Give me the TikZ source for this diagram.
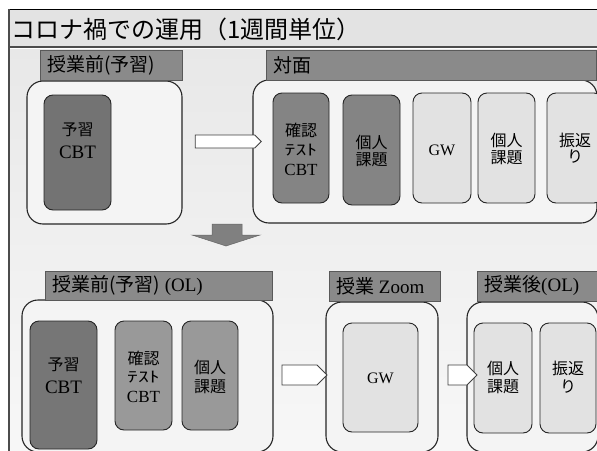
\documentclass[tikz,border=0pt]{standalone}
\usepackage{fontspec}
\setmainfont{Liberation Serif}
\newfontfamily\jp{Noto Sans CJK JP}
\newfontfamily\jpwide{Noto Sans CJK JP}[FakeStretch=1.45]
\usetikzlibrary{shapes.symbols}
\definecolor{hdrgray}{HTML}{8A8A8A}
\definecolor{darkA}{HTML}{737373}
\definecolor{darkB}{HTML}{848484}
\definecolor{darkC}{HTML}{767676}
\definecolor{midC}{HTML}{999999}
\definecolor{lightg}{HTML}{E2E2E2}
\definecolor{contfill}{HTML}{F4F4F4}
\begin{document}
\begin{tikzpicture}[x=1pt,y=-1pt,
  container/.style={draw=black!85,line width=1.1pt,rounded corners=16pt,fill=contfill,minimum width=#1,inner sep=0pt},
  hdr/.style={draw=black!65,line width=0.8pt,fill=hdrgray,inner sep=0pt,minimum height=30pt,minimum width=#1},
  ibox/.style={draw=black!85,line width=0.9pt,rounded corners=9pt,inner sep=0pt,minimum width=#1},
  blockarrow/.style={signal,signal to=east,draw=black!75,line width=0.8pt,fill=white,inner sep=0pt,minimum width=#1},
  jt/.style={font=\jp\fontsize{16}{18}\selectfont,inner sep=0pt},
  lt/.style={font=\fontsize{19}{21}\selectfont,inner sep=0pt},
  st/.style={font=\jpwide\fontsize{15}{17}\selectfont,inner sep=0pt},
  ht/.style={font=\fontsize{19}{22}\selectfont,inner sep=0pt,anchor=west}]
\useasboundingbox (0,0) rectangle (597,450);
\clip (0,0) rectangle (597,450);
% frame
\shade[top color=black!9,bottom color=black!3] (9,47) rectangle (600,452);
\fill[black!11] (9,9) rectangle (600,47);
\draw[black!70,line width=1.2pt] (9,47) -- (600,47);
\draw[white,line width=0.8pt] (9,48.6) -- (600,48.6);
\draw[black,line width=0.8pt] (9,9) -- (600,9);
\draw[black!70,line width=1.6pt] (9,9) -- (9,452);
\node[anchor=west,inner sep=0pt,font=\jp\fontsize{24}{26}\selectfont] (title) at (11,29) {コロナ禍での運用（1週間単位）};

% upper left
\node[container=155pt,minimum height=143pt] (cA) at (104.5,152.5) {};
\node[hdr=142pt] (hA) at (111,65) {};
\node[ht] (hAt) at (47,65) {\jp 授業前(予習)};
\node[ibox=67pt,minimum height=115pt,fill=darkA] (pA) at (77.5,152.5) {};
\node[jt] (pA1) at (77.5,130) {予習};
\node[lt] (pA2) at (77.5,152) {CBT};

% upper right
\node[container=344pt,minimum height=143pt] (cB) at (425,151.5) {};
\node[hdr=330pt] (hB) at (431,65) {};
\node[ht] (hBt) at (273,65) {\jp 対面};
\node[ibox=56pt,minimum height=110pt,fill=darkB] (b1) at (301,148) {};
\node[jt] (b1a) at (301,130) {確認};
\node[st] (b1b) at (301,150) {ﾃｽﾄ};
\node[lt,font=\fontsize{17}{19}\selectfont] (b1c) at (301,170) {CBT};
\node[ibox=57pt,minimum height=110pt,fill=darkB] (b2) at (371.5,150) {};
\node[jt] (b2a) at (371.5,142) {個人};
\node[jt] (b2b) at (371.5,160) {課題};
\node[ibox=58pt,minimum height=110pt,fill=lightg] (b3) at (442,148) {};
\node[lt,font=\fontsize{16}{18}\selectfont] (b3a) at (442,150) {GW};
\node[ibox=57pt,minimum height=110pt,fill=lightg] (b4) at (506.5,148) {};
\node[jt] (b4a) at (506.5,140) {個人};
\node[jt] (b4b) at (506.5,158) {課題};
\node[ibox=56pt,minimum height=110pt,fill=lightg] (b5) at (575,148) {};
\node[jt] (b5a) at (575,140) {振返};
\node[jt] (b5b) at (575,157) {り};

% down arrow
\fill[draw=black!60,fill=black!50,line width=0.5pt] (212,224) -- (242,224) -- (242,235) -- (260,235) -- (226,246) -- (192,235) -- (212,235) -- cycle;

% lower left
\node[container=251pt,minimum height=152pt] (cC) at (147.5,376) {};
\node[hdr=227pt,minimum height=29pt] (hC) at (158.5,285.5) {};
\node[ht] (hCt) at (52,285.5) {{\jp 授業前(予習)} (OL)};
\node[ibox=67pt,minimum height=128pt,fill=darkC] (pC) at (63.5,385) {};
\node[jt] (pC1) at (63.5,365) {予習};
\node[lt] (pC2) at (63.5,387) {CBT};
\node[ibox=57pt,minimum height=109pt,fill=midC] (qC) at (143.5,375.5) {};
\node[jt] (qC1) at (143.5,358) {確認};
\node[st] (qC2) at (143.5,377) {ﾃｽﾄ};
\node[lt,font=\fontsize{17}{19}\selectfont] (qC3) at (143.5,397) {CBT};
\node[ibox=56pt,minimum height=109pt,fill=midC] (rC) at (210,375.5) {};
\node[jt] (rC1) at (210,367) {個人};
\node[jt] (rC2) at (210,387) {課題};

% lower middle
\node[container=112pt,minimum height=150pt] (cD) at (382,377) {};
\node[hdr=111pt] (hD) at (384.5,286) {};
\node[ht] (hDt) at (336,286) {{\jp 授業} Zoom};
\node[ibox=75pt,minimum height=109pt,fill=lightg] (gD) at (380.5,377.5) {};
\node[lt,font=\fontsize{16}{18}\selectfont] (gDt) at (380.5,378) {GW};

% lower right
\node[container=131pt,minimum height=150pt] (cE) at (532.5,377) {};
\node[hdr=120pt] (hE) at (537,286) {};
\node[ht] (hEt) at (484,286) {{\jp 授業後}(OL)};
\node[ibox=58pt,minimum height=110pt,fill=lightg] (iE1) at (503,378) {};
\node[jt] (iE1a) at (503,368) {個人};
\node[jt] (iE1b) at (503,387) {課題};
\node[ibox=56pt,minimum height=110pt,fill=lightg] (iE2) at (568,378) {};
\node[jt] (iE2a) at (568,368) {振返};
\node[jt] (iE2b) at (568,387) {り};

% block arrows (on top)
\node[blockarrow=66pt,minimum height=13pt] (aA) at (225,141.5) {};
\node[blockarrow=45pt,minimum height=20pt] (aC) at (299.5,375) {};
\node[blockarrow=29pt,minimum height=20pt] (aD) at (457.5,375) {};
\end{tikzpicture}
\end{document}
